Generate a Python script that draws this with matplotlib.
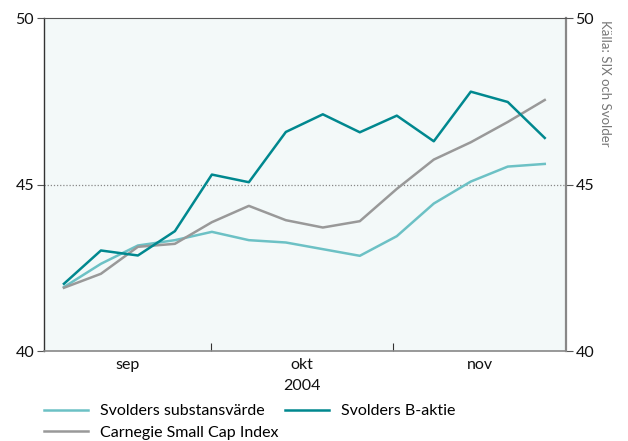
import matplotlib
matplotlib.use("Agg")
import matplotlib.pyplot as plt
from matplotlib.lines import Line2D

plt.rcParams['font.family'] = ['Lato', 'DejaVu Sans']

# Data (weekly observations, Aug-Nov 2004)
substansvarde = [41.92, 42.62, 43.17, 43.33, 43.58, 43.33, 43.26, 43.06, 42.86, 43.45, 44.43, 45.09, 45.54, 45.62]
b_aktie      = [42.02, 43.02, 42.87, 43.60, 45.30, 45.07, 46.58, 47.11, 46.57, 47.07, 46.30, 47.79, 47.48, 46.40]
carnegie     = [41.90, 42.32, 43.13, 43.22, 43.87, 44.36, 43.93, 43.71, 43.90, 44.87, 45.75, 46.27, 46.88, 47.54]
month_labels = ["sep", "okt", "nov"]
year_label = "2004"
yticks = [40, 45, 50]
series_names = ["Svolders substansvärde", "Svolders B-aktie", "Carnegie Small Cap Index"]
source = "Källa: SIX och Svolder"

c_sub = "#6cc1c5"
c_b = "#00888f"
c_car = "#999999"

fig = plt.figure(figsize=(6.28, 4.41), dpi=100)
ax = fig.add_axes([0.070, 0.204, 0.831, 0.755])
ax.set_facecolor("#f3f9f9")

x = list(range(len(b_aktie)))
xmin, xmax = -0.54, 13.57
month_bounds = [xmin, 3.97, 8.9, xmax]

ax.axhline(45, color="#888888", lw=0.9, ls=(0, (1, 1.5)), zorder=1)
ax.plot(x, substansvarde, color=c_sub, lw=1.8, zorder=3)
ax.plot(x, carnegie, color=c_car, lw=1.8, zorder=3)
ax.plot(x, b_aktie, color=c_b, lw=1.8, zorder=4)

ax.set_xlim(xmin, xmax)
ax.set_ylim(40, 50)
ax.set_yticks(yticks)
ax.set_yticklabels([str(v) for v in yticks], fontsize=11.5, color="#111111")
ax.tick_params(axis='y', direction='out', length=5, width=0.8, color="#555555", pad=2,
               left=True, right=True, labelleft=True, labelright=True)

ax.set_xticks(month_bounds[1:3])
ax.set_xticklabels(["", ""])
ax.tick_params(axis='x', direction='in', length=6, width=0.8, color="#333333")
for i, lab in enumerate(month_labels):
    mid = (month_bounds[i] + month_bounds[i + 1]) / 2
    ax.text(mid, -0.02, lab, transform=ax.get_xaxis_transform(), ha='center', va='top',
            fontsize=11.5, color="#111111")
ax.text((month_bounds[1] + month_bounds[2]) / 2, -0.085, year_label,
        transform=ax.get_xaxis_transform(), ha='center', va='top', fontsize=11.5, color="#111111")

ax.spines['left'].set_color("#333333")
ax.spines['left'].set_linewidth(1.0)
ax.spines['top'].set_color("#555555")
ax.spines['top'].set_linewidth(0.8)
ax.spines['bottom'].set_color("#888888")
ax.spines['bottom'].set_linewidth(1.2)
ax.spines['right'].set_color("#888888")
ax.spines['right'].set_linewidth(1.6)

fig.text(0.963, 0.955, source, rotation=-90, ha='center', va='top', fontsize=9.5, color="#777777")

handles = [Line2D([], [], color=c_sub, lw=1.8),
           Line2D([], [], color=c_b, lw=1.8),
           Line2D([], [], color=c_car, lw=1.8)]
order = [0, 2, 1]
leg = fig.legend([handles[i] for i in order], [series_names[i] for i in order],
                 loc='upper left', bbox_to_anchor=(0.060, 0.098), ncol=2, frameon=False,
                 fontsize=11.5, handlelength=2.75, handletextpad=0.75, columnspacing=0.4,
                 labelspacing=0.45, borderaxespad=0)

fig.savefig("out.png", dpi=100)
